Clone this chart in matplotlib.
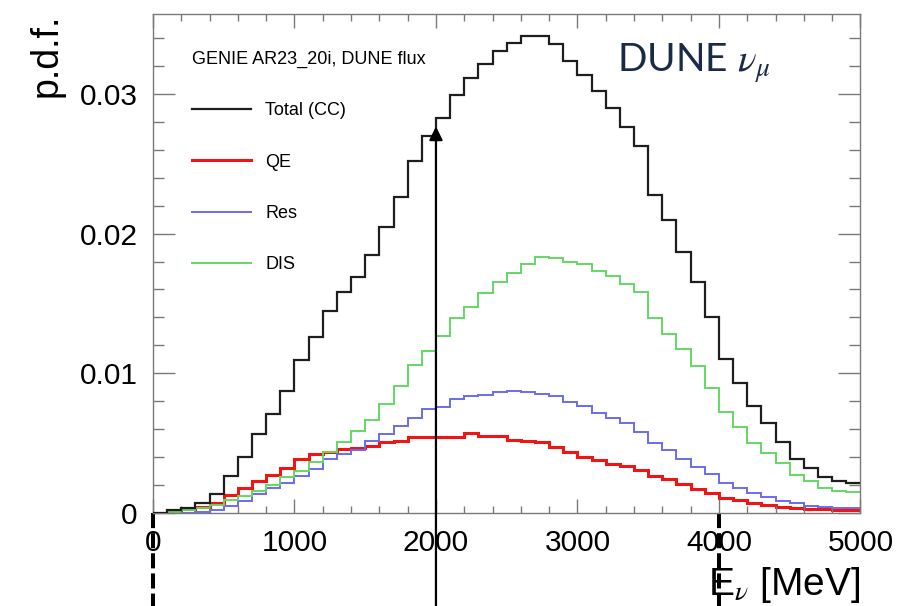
import numpy as np
import matplotlib
matplotlib.use("Agg")
import matplotlib.pyplot as plt
from matplotlib.ticker import MultipleLocator

plt.rcParams['font.family'] = ['Liberation Sans', 'DejaVu Sans']
plt.rcParams['mathtext.fontset'] = 'stix'

### bin edges (100 MeV bins) and p.d.f. per bin
edges = np.linspace(0, 5000, 51)

total = [0.00005, 0.0002, 0.00036, 0.00076, 0.00136, 0.00267, 0.00405, 0.00568, 0.00709, 0.00875,
         0.01097, 0.0126, 0.01443, 0.01582, 0.01686, 0.01849, 0.02047, 0.02259, 0.02522, 0.02694,
         0.02825, 0.02989, 0.03114, 0.03209, 0.03302, 0.03359, 0.03412, 0.03412, 0.03352, 0.03233,
         0.03137, 0.03018, 0.02894, 0.02763, 0.02629, 0.02276, 0.02095, 0.01866, 0.01656, 0.0140,
         0.01102, 0.0093, 0.00768, 0.00644, 0.00513, 0.00386, 0.00322, 0.00262, 0.00233, 0.00215]

qe = [0.00005, 0.0001, 0.0003, 0.00043, 0.00076, 0.00129, 0.00184, 0.00231, 0.00274, 0.00322,
      0.00387, 0.00422, 0.00437, 0.0046, 0.00468, 0.00482, 0.00508, 0.00517, 0.00548, 0.00544,
      0.00548, 0.00544, 0.00573, 0.00553, 0.00553, 0.00525, 0.0052, 0.0051, 0.00474, 0.00437,
      0.004, 0.0038, 0.0035, 0.0034, 0.0031, 0.00267, 0.00243, 0.0021, 0.00172, 0.00148,
      0.00112, 0.00095, 0.00076, 0.00059, 0.00047, 0.00038, 0.00033, 0.00029, 0.00026, 0.00024]

res = [0.0, 0.00002, 0.00005, 0.00007, 0.00024, 0.00052, 0.00091, 0.00138, 0.00179, 0.00215,
       0.00267, 0.00315, 0.00387, 0.00425, 0.00453, 0.0052, 0.00568, 0.00627, 0.0068, 0.00747,
       0.00763, 0.00816, 0.00835, 0.00849, 0.00866, 0.00876, 0.0087, 0.00852, 0.00835, 0.00794,
       0.0077, 0.0072, 0.00684, 0.00644, 0.00584, 0.00501, 0.00453, 0.00386, 0.00334, 0.00281,
       0.00219, 0.00179, 0.00148, 0.00119, 0.0009, 0.00072, 0.00055, 0.00043, 0.00038, 0.00036]

dis = [0.00002, 0.00007, 0.0002, 0.00036, 0.00057, 0.00095, 0.00124, 0.00162, 0.00203, 0.00258,
       0.00305, 0.0037, 0.00441, 0.00513, 0.00585, 0.00668, 0.00782, 0.00911, 0.01057, 0.01162,
       0.01271, 0.01393, 0.01472, 0.01575, 0.01651, 0.01718, 0.01785, 0.01835, 0.01828, 0.01794,
       0.01782, 0.01734, 0.01694, 0.01639, 0.01582, 0.01396, 0.01283, 0.01174, 0.01054, 0.00899,
       0.00727, 0.00615, 0.00505, 0.00434, 0.00362, 0.00274, 0.00233, 0.00179, 0.00162, 0.0015]

labels = ['Total (CC)', 'QE', 'Res', 'DIS']
arrow_e = 2000
arrow_top = 0.02765
cut_lo, cut_hi = 0, 4000

fig = plt.figure(figsize=(9, 6.06), dpi=100)
ax = fig.add_axes([0.17, 0.153, 0.786, 0.824])

h_tot = ax.stairs(total, edges, baseline=None, color='#1e1e1e', lw=1.6, label=labels[0])
h_qe = ax.stairs(qe, edges, baseline=None, color='#f01414', lw=2.2, label=labels[1])
h_res = ax.stairs(res, edges, baseline=None, color='#6a6af0', lw=1.4, label=labels[2])
h_dis = ax.stairs(dis, edges, baseline=None, color='#62d862', lw=1.4, label=labels[3])
h_tot.set_zorder(3)

ax.set_xlim(0, 5000)
ax.set_ylim(0, 0.0357)

# ROOT-like frame and ticks
for s in ax.spines.values():
    s.set_color('#7a7a7a')
    s.set_linewidth(1.0)
ax.xaxis.set_major_locator(MultipleLocator(1000))
ax.xaxis.set_minor_locator(MultipleLocator(200))
ax.yaxis.set_major_locator(MultipleLocator(0.01))
ax.yaxis.set_minor_locator(MultipleLocator(0.002))
ax.tick_params(which='both', direction='in', top=True, right=True, color='#7a7a7a', width=1.0,
               labelsize=21.5)
ax.tick_params(axis='x', which='major', length=10, pad=11)
ax.tick_params(axis='x', which='minor', length=5)
ax.tick_params(axis='y', which='major', length=16, pad=11)
ax.tick_params(axis='y', which='minor', length=8)
ax.yaxis.set_major_formatter(matplotlib.ticker.FuncFormatter(lambda v, p: '0' if v == 0 else f'{v:g}'))

ax.set_ylabel('p.d.f.', fontsize=27, loc='top', labelpad=11)
ax.set_xlabel('E$_{\\nu}$ [MeV]', fontsize=28, loc='right', labelpad=6)

leg = ax.legend(handles=[h_tot, h_qe, h_res, h_dis], labels=labels,
                title='GENIE AR23_20i, DUNE flux', title_fontsize=13, fontsize=13,
                loc='upper left', bbox_to_anchor=(0.055, 0.926), frameon=False,
                borderpad=0, borderaxespad=0, labelspacing=1.9, handlelength=3.3,
                handletextpad=0.75, alignment='left')

ax.text(0.656, 0.884, 'DUNE $\\nu_{\\mu}$', transform=ax.transAxes, fontsize=28,
        family=['Lato', 'DejaVu Sans'], color='#1b2a47', ha='left', va='baseline')

# arrow at 2 GeV coming up from below the plot
ax.annotate('', xy=(arrow_e, arrow_top), xytext=(arrow_e, -0.3),
            textcoords=('data', 'axes fraction'), annotation_clip=False,
            arrowprops=dict(arrowstyle='-|>,head_length=0.4,head_width=0.2', color='black',
                            lw=1.6, mutation_scale=20, shrinkA=0, shrinkB=0))

# dashed range markers below the axis
for xc in (cut_lo, cut_hi):
    ax.axvline(xc, ymin=0, ymax=-0.25, color='black', lw=2.9, ls=(0, (3.75, 1.25)),
               clip_on=False, solid_capstyle='butt')

plt.savefig('out.png', dpi=100)
